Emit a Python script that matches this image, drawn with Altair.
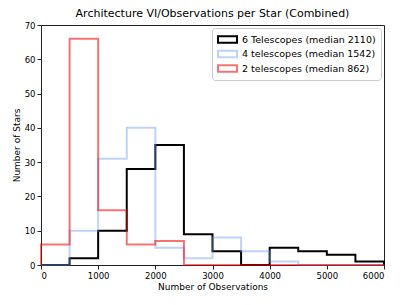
import altair as alt
import pandas as pd

edges = [0, 500, 1000, 1500, 2000, 2500, 3000, 3500, 4000, 4500, 5000, 5500, 6000]
series = ["6 Telescopes (median 2110)", "4 telescopes (median 1542)", "2 telescopes (median 862)"]
counts_6 = [0, 2, 10, 28, 35, 9, 4, 0, 5, 4, 3, 1]
counts_4 = [0, 10, 31, 40, 5, 2, 8, 4, 1, 0, 0, 0]
counts_2 = [6, 66, 16, 6, 7, 0, 0, 0, 0, 0, 0, 0]
colors = ["#000000", "rgba(100,149,237,0.42)", "rgba(240,0,0,0.55)"]

rows = []
for si, (name, cnts) in enumerate(zip(series, [counts_6, counts_4, counts_2])):
    k = 0
    rows.append({"s": name, "si": si, "k": k, "x": edges[0], "y": 0}); k += 1
    for i, c in enumerate(cnts):
        rows.append({"s": name, "si": si, "k": k, "x": edges[i], "y": c}); k += 1
        rows.append({"s": name, "si": si, "k": k, "x": edges[i + 1], "y": c}); k += 1
    rows.append({"s": name, "si": si, "k": k, "x": edges[-1], "y": 0})
df = pd.DataFrame(rows)

chart = alt.Chart(df).mark_line(strokeWidth=2, strokeJoin="miter").encode(
    x=alt.X("x:Q", scale=alt.Scale(domain=[0, 6000], nice=False),
            axis=alt.Axis(values=[0, 1000, 2000, 3000, 4000, 5000, 6000], format="d",
                          title="Number of Observations")),
    y=alt.Y("y:Q", scale=alt.Scale(domain=[0, 70], nice=False),
            axis=alt.Axis(values=[0, 10, 20, 30, 40, 50, 60, 70], format="d", title="Number of Stars")),
    color=alt.Color("s:N", scale=alt.Scale(domain=series, range=colors),
                    legend=alt.Legend(title=None, orient="top-right",
                                      symbolType="M-1,-0.35L1,-0.35L1,0.35L-1,0.35Z",
                                      symbolSize=361, symbolStrokeWidth=2,
                                      symbolFillColor="transparent",
                                      labelFontSize=9.5, labelLimit=300,
                                      clipHeight=13, rowPadding=1.5,
                                      padding=5, offset=3,
                                      strokeColor="#cccccc", fillColor="white",
                                      cornerRadius=3, labelColor="black")),
    detail="s:N",
    order="k:Q",
).properties(
    width=343, height=240,
    title=alt.TitleParams("Architecture VI/Observations per Star (Combined)", fontSize=11,
                          fontWeight="normal", color="black", offset=2),
    autosize=alt.AutoSizeParams(type="none"),
    padding={"left": 33, "top": 17, "right": 15, "bottom": 30},
).configure(font="DejaVu Sans").configure_view(stroke="#222222", strokeWidth=1).configure_axis(
    labelFontSize=8.5, titleFontSize=9, labelColor="black", titleColor="black",
    titleFontWeight="normal", tickColor="#222222", domainColor="#222222", grid=False,
    tickSize=4, labelPadding=2, titlePadding=3
)

chart.save("out.html", embed_options={"renderer": "svg", "actions": False})
